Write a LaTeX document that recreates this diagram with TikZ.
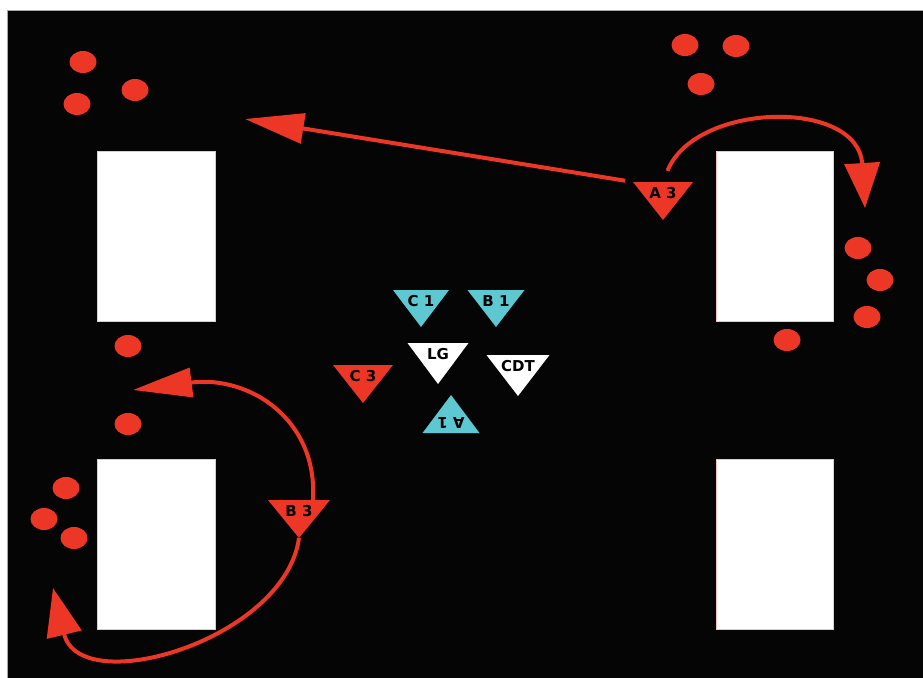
\documentclass[tikz,border=0pt]{standalone}
\usepackage{fontspec}
\setsansfont{DejaVu Sans}
\usetikzlibrary{calc,arrows.meta}
\definecolor{cone red}{RGB}{236,54,38}
\definecolor{cone cyan}{RGB}{94,200,210}
\definecolor{pitch}{RGB}{5,5,5}
\makeatletter
\newif\ifpl@flipped
\pgfkeys{
  /pl/.cd,
  id/.store in=\pl@id,
  at/.store in=\pl@position,
  colour/.store in=\pl@colour,
  width/.store in=\pl@width,
  height/.store in=\pl@height,
  flipped/.code={\pl@flippedtrue},
}
\newcommand{\player}[2][]{
  \pl@flippedfalse
  \pgfkeys{/pl/.cd,colour=cone red,width=60,height=38,#1}
  \ifpl@flipped
    \node[player label,rotate=180] (\pl@id) at \pl@position {#2};
    \coordinate (\pl@id-n) at ($ (\pl@id) + (0,10) $);
    \coordinate (\pl@id-s) at ($ (\pl@id) + (0,10-\pl@height) $);
  \else
    \node[player label] (\pl@id) at \pl@position {#2};
    \coordinate (\pl@id-n) at ($ (\pl@id) + (0,-11) $);
    \coordinate (\pl@id-s) at ($ (\pl@id) + (0,-11+\pl@height) $);
  \fi
  \coordinate (\pl@id-w) at ($ (\pl@id-n) + (-\pl@width/2,0) $);
  \coordinate (\pl@id-e) at ($ (\pl@id-n) + (\pl@width/2,0) $);
  \begin{pgfonlayer}{background}
    \fill[\pl@colour] (\pl@id-w) -- (\pl@id-e) -- (\pl@id-s) -- cycle;
  \end{pgfonlayer}
}
\makeatother
\pgfdeclarelayer{background}
\pgfsetlayers{background,main}

\begin{document}
\begin{tikzpicture}[
    x=1pt,y=-1pt,
    player label/.style={font=\sffamily\bfseries\fontsize{15}{15}\selectfont,text=black,inner sep=0pt},
    zone/.style={fill=white,draw=white!75!red,line width=0.6pt,minimum width=118pt,minimum height=170pt,inner sep=0pt},
    ball/.style={fill=cone red},
    run/.style={draw=cone red,line width=4pt},
  ]
  \useasboundingbox (0,0) rectangle (923,677);
  \begin{pgfonlayer}{background}
    \fill[white] (0,0) rectangle (923,677);
    \filldraw[fill=pitch,draw=gray!70,line width=0.8pt] (7,10) rectangle (924,678);
  \end{pgfonlayer}

  \node[zone] (zone nw) at (156,236) {};
  \node[zone,minimum width=117pt] (zone ne) at (775,236) {};
  \node[zone] (zone sw) at (156,544) {};
  \node[zone,minimum width=117pt] (zone se) at (775,544) {};

  \foreach \x/\y in {83/62,77/104,135/90,685/45,736/46,701/84,858/248,880/280,867/317,787/340,128/346,128/424,66/488,44/519,74/538} {
    \fill[ball] (\x,\y) ellipse [x radius=13.5pt,y radius=11pt];
  }

  \player[id=a3,at={(663,193)}]{A 3}
  \player[id=b3,at={(299,511)},width=62]{B 3}
  \player[id=c3,at={(363,376)}]{C 3}
  \player[id=c1,at={(421,301)},colour=cone cyan,width=56,height=37]{C 1}
  \player[id=b1,at={(496,301)},colour=cone cyan,width=57,height=37]{B 1}
  \player[id=lg,at={(438,354)},colour=white,width=61,height=41]{LG}
  \player[id=cdt,at={(518,366)},colour=white,width=63,height=41]{CDT}
  \player[id=a1,at={(451,423)},colour=cone cyan,width=57,flipped]{A 1}

  \coordinate (a3 run) at (245,119);
  \coordinate (a3 sweep) at (865,208);
  \coordinate (b3 up) at (133,390);
  \coordinate (b3 down) at (53,588);

  \draw[run,-{Triangle[length=59pt,width=30pt]},shorten <=8pt] (a3-w) -- (a3 run);
  \draw[run,-{Triangle[length=45pt,width=35pt]},shorten <=12pt] (a3-n) .. controls (695,102) and (858,98) .. (a3 sweep);
  \draw[run,-{Triangle[length=59pt,width=29pt]}] ($ (b3-n) ! 0.45 ! (b3-e) $) .. controls (318,420) and (250,375) .. (b3 up);
  \draw[run,-{Triangle[length=48pt,width=35pt]}] (b3-s) .. controls (285,640) and (80,700) .. (b3 down);

\end{tikzpicture}
\end{document}
